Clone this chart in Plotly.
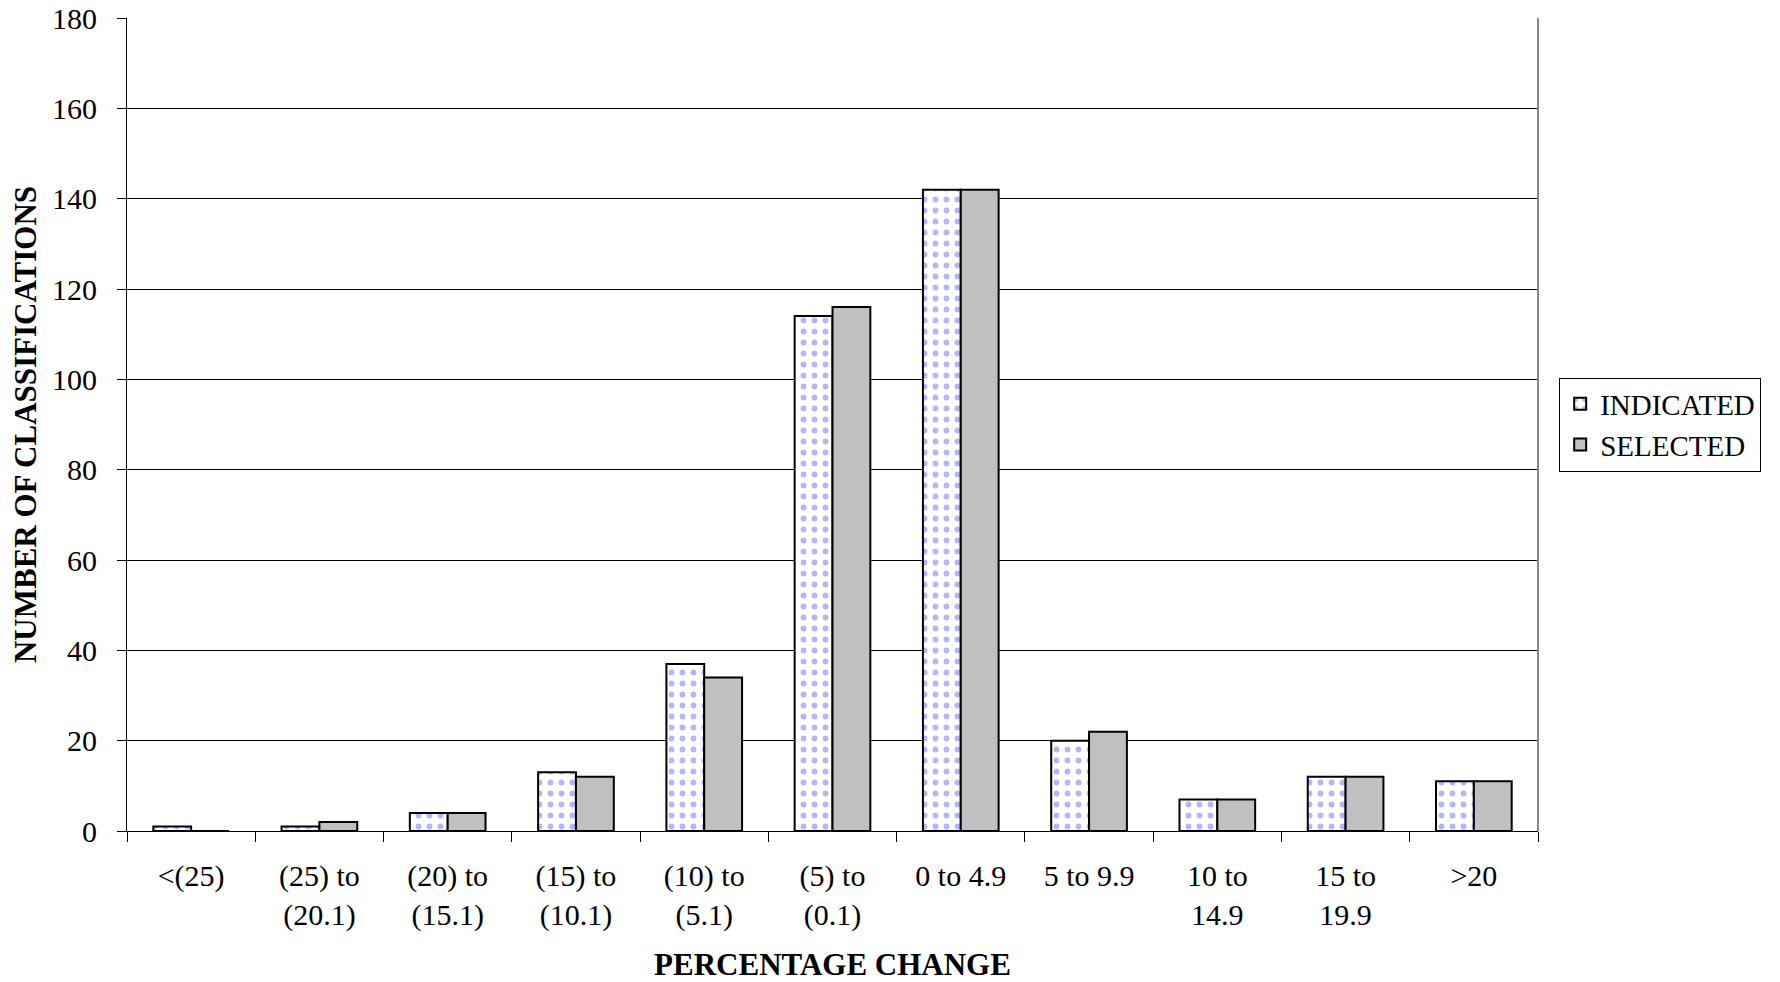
import plotly.graph_objects as go

categories = ["<(25)", "(25) to<br>(20.1)", "(20) to<br>(15.1)", "(15) to<br>(10.1)",
              "(10) to<br>(5.1)", "(5) to<br>(0.1)", "0 to 4.9", "5 to 9.9",
              "10 to<br>14.9", "15 to<br>19.9", ">20"]
indicated = [1, 1, 4, 13, 37, 114, 142, 20, 7, 12, 11]
selected = [0, 2, 4, 12, 34, 116, 142, 22, 7, 12, 11]
y_ticks = [0, 20, 40, 60, 80, 100, 120, 140, 160, 180]

FONT = "Liberation Serif, Times New Roman, serif"

fig = go.Figure()
fig.add_trace(go.Bar(
    x=categories, y=indicated, name="INDICATED",
    marker=dict(color="white", line=dict(color="black", width=2),
                pattern=dict(shape=".", fgcolor="#6a6aff", bgcolor="white",
                             size=11, solidity=0.22)),
))
fig.add_trace(go.Bar(
    x=categories, y=selected, name="SELECTED",
    marker=dict(color="#c0c0c0", line=dict(color="black", width=2)),
))

fig.update_layout(
    width=1780, height=982,
    margin=dict(l=127, r=242, t=18, b=151, autoexpand=False),
    paper_bgcolor="white", plot_bgcolor="white",
    barmode="group", bargap=0.41, bargroupgap=0,
    font=dict(family=FONT, size=30, color="black"),
    showlegend=True,
    legend=dict(x=1.015, y=0.5, xanchor="left", yanchor="middle",
                bordercolor="black", borderwidth=1, bgcolor="white",
                font=dict(family=FONT, size=29), itemwidth=30,
                tracegroupgap=4),
)
fig.update_xaxes(
    type="category", tickson="boundaries", ticks="outside", ticklen=10,
    tickcolor="black", tickwidth=1, showline=True, linecolor="black", linewidth=1,
    showgrid=False, ticklabelstandoff=18, automargin=False,
    title=dict(text="<b>PERCENTAGE CHANGE</b>", font=dict(family=FONT, size=31), standoff=36),
    mirror=False,
)
fig.update_yaxes(
    range=[0, 180], tickvals=y_ticks, ticks="outside", ticklen=9, tickcolor="black",
    showline=True, linecolor="black", linewidth=1, automargin=False,
    showgrid=True, gridcolor="black", gridwidth=1, zeroline=False,
    ticklabelstandoff=14,
    title=dict(text="<b>NUMBER OF CLASSIFICATIONS</b>", font=dict(family=FONT, size=31), standoff=6),
)
fig.add_shape(type="line", xref="paper", yref="paper", x0=1, x1=1, y0=0, y1=1,
              line=dict(color="#888888", width=2))

fig.write_html("out.html", config={"displayModeBar": False},
               post_script="document.body.style.margin='0';document.body.style.overflow='hidden';")
